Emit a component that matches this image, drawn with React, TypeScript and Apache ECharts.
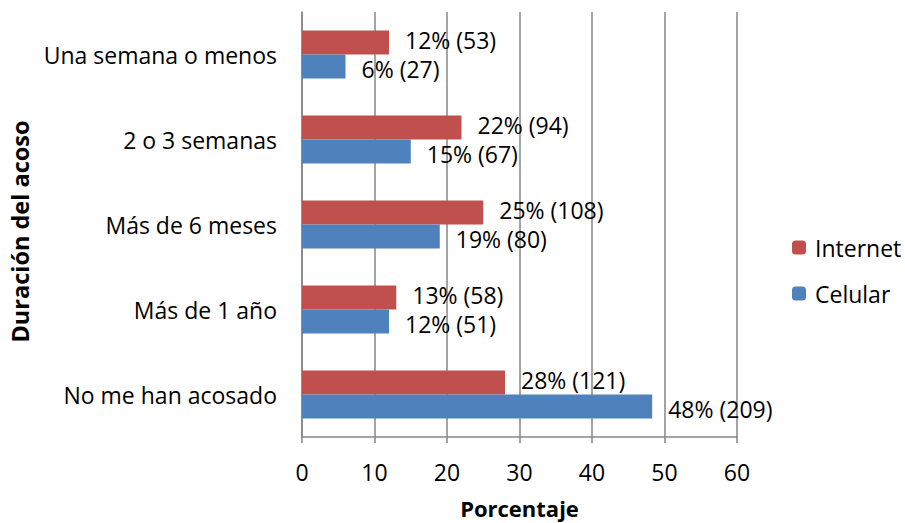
import React, { useEffect, useRef } from "react";
import * as echarts from "echarts";

const categories = [
  "Una semana o menos",
  "2 o 3 semanas",
  "Más de 6 meses",
  "Más de 1 año",
  "No me han acosado",
];
const internetPct = [12, 22, 25, 13, 28];
const internetCount = [53, 94, 108, 58, 121];
const celularPct = [6, 15, 19, 12, 48.3];
const celularPctLabel = [6, 15, 19, 12, 48];
const celularCount = [27, 67, 80, 51, 209];
const xTicks = [0, 10, 20, 30, 40, 50, 60];

const FONT = "Open Sans";
const FS = 23;

export default function App() {
  const ref = useRef<HTMLDivElement>(null);
  useEffect(() => {
    if (!ref.current) return;
    document.body.style.margin = "0";
    document.body.style.overflow = "hidden";
    const chart = echarts.init(ref.current, undefined, { renderer: "svg" });
    chart.setOption({
      animation: false,
      textStyle: { fontFamily: FONT, color: "#000" },
      legend: {
        orient: "vertical",
        left: 787,
        top: 231,
        itemWidth: 14,
        itemHeight: 14,
        itemGap: 23,
        data: ["Internet", "Celular"],
        textStyle: { fontFamily: FONT, fontSize: FS, color: "#000", padding: [0, 0, 0, 4] },
      },
      grid: { left: 302, right: 168, top: 12, bottom: 86, containLabel: false, outerBoundsMode: "none" },
      xAxis: {
        type: "value",
        min: xTicks[0],
        max: xTicks[xTicks.length - 1],
        interval: 10,
        name: "Porcentaje",
        nameLocation: "middle",
        nameGap: 60,
        nameTextStyle: {
          fontFamily: FONT,
          fontSize: 22,
          lineHeight: 22,
          fontWeight: "bold",
          color: "#000",
        },
        axisLine: { show: true, lineStyle: { color: "#868686", width: 1.5 } },
        axisTick: { show: true, length: 6, lineStyle: { color: "#868686", width: 1.5 } },
        axisLabel: { fontFamily: FONT, fontSize: FS, color: "#000", margin: 23 },
        splitLine: { show: true, lineStyle: { color: "#868686", width: 1.5 } },
      },
      yAxis: {
        type: "category",
        inverse: true,
        data: categories,
        name: "Duración del acoso",
        nameLocation: "middle",
        nameGap: 270,
        nameRotate: 90,
        nameTextStyle: {
          fontFamily: FONT,
          fontSize: 23.5,
          fontWeight: "bold",
          color: "#000",
          padding: [0, 14, 0, 0],
        },
        axisLine: { show: true, lineStyle: { color: "#868686", width: 1.5 } },
        axisTick: { show: false },
        axisLabel: { fontFamily: FONT, fontSize: FS, color: "#000", margin: 25 },
      },
      series: [
        {
          name: "Internet",
          type: "bar",
          data: internetPct,
          barWidth: 24,
          barGap: "0%",
          itemStyle: { color: "#C0504D" },
          label: {
            show: true,
            position: "right",
            distance: 16,
            offset: [0, -2.5],
            fontFamily: FONT,
            fontSize: FS,
            lineHeight: 22,
            color: "#000",
            formatter: (p: any) => `${internetPct[p.dataIndex]}% (${internetCount[p.dataIndex]})`,
          },
        },
        {
          name: "Celular",
          type: "bar",
          data: celularPct,
          barWidth: 24,
          itemStyle: { color: "#4F81BD" },
          label: {
            show: true,
            position: "right",
            distance: 16,
            offset: [0, 2],
            fontFamily: FONT,
            fontSize: FS,
            lineHeight: 22,
            color: "#000",
            formatter: (p: any) => `${celularPctLabel[p.dataIndex]}% (${celularCount[p.dataIndex]})`,
          },
        },
      ],
    });
    return () => chart.dispose();
  }, []);
  return <div ref={ref} style={{ width: 905, height: 523 }} />;
}
